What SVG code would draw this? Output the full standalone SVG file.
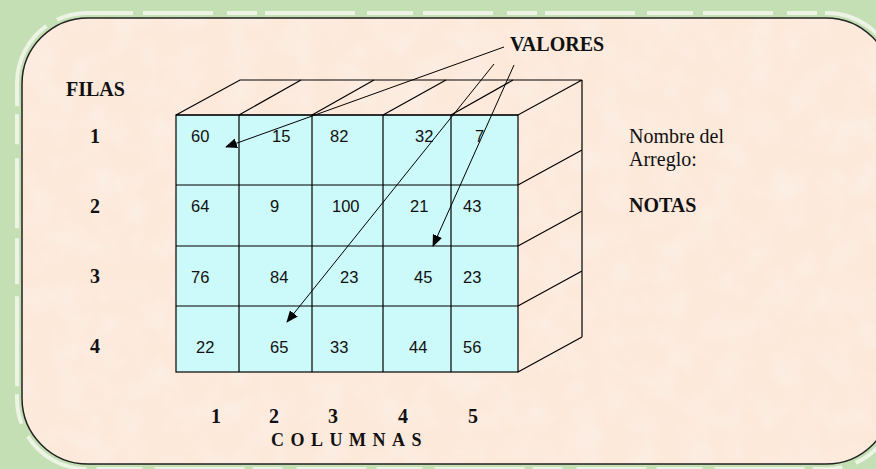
<svg xmlns="http://www.w3.org/2000/svg" width="876" height="469" viewBox="0 0 876 469">
<style>
  .ln{stroke:#000;stroke-width:1.2;fill:none}
  .num{font-family:"Liberation Sans",Arial,sans-serif;font-size:16.5px;fill:#111}
  .lbl{font-family:"Liberation Serif","DejaVu Serif",serif;font-size:20px;font-weight:bold;fill:#111}
  .txt{font-family:"Liberation Serif","DejaVu Serif",serif;font-size:20px;fill:#111}
  .arr{stroke:#000;stroke-width:1;fill:none;marker-end:url(#ah)}
</style>
<defs>
  <marker id="ah" viewBox="0 0 12 10" refX="11" refY="5" markerWidth="12" markerHeight="10" markerUnits="userSpaceOnUse" orient="auto">
    <path d="M0,0 L12,5 L0,10 z" fill="#000"/>
  </marker>
  <filter id="mottle" x="0" y="0" width="100%" height="100%">
    <feTurbulence type="fractalNoise" baseFrequency="0.035" numOctaves="3" seed="4" result="n"/>
    <feColorMatrix in="n" type="matrix" values="0 0 0 0 0.97  0 0 0 0 0.85  0 0 0 0 0.77  0 0 0 -2.4 1.45" result="c"/>
    <feComposite in="c" in2="SourceGraphic" operator="in"/>
  </filter>
</defs>
<rect x="0" y="0" width="876" height="469" fill="#c3dfb3"/>
<rect x="17" y="13" width="880" height="456" rx="70" fill="none" stroke="#f4f8ef" stroke-width="4" stroke-dasharray="46 10 70 14 30 8 90 12" opacity="0.85"/>
<g id="panel">
  <rect x="22" y="18" width="870" height="446" rx="66" fill="#fde9da"/>
  <rect x="22" y="18" width="870" height="446" rx="66" fill="#fde9da" filter="url(#mottle)"/>
  <rect x="22" y="18" width="870" height="446" rx="66" fill="none" stroke="#222" stroke-width="1.5"/>
</g>
<g id="array">
  <rect x="176" y="115" width="342" height="257" fill="#ccf9f9"/>
  <polygon class="ln" points="176,115 240,80 582,80 518,115"/>
  <path class="ln" d="M239,115 L301,80 M312,115 L374,80 M383,115 L446,80 M451,115 L513,80"/>
  <path class="ln" d="M518,185 L582,150 M518,246 L582,211 M518,306 L582,271 M518,372 L582,337 M582,80 L582,337"/>
  <rect class="ln" x="176" y="115" width="342" height="257"/>
  <path class="ln" d="M176,185 H518 M176,246 H518 M176,306 H518 M239,115 V372 M312,115 V372 M383,115 V372 M451,115 V372"/>
</g>
<g id="values">
  <text class="num" x="191" y="142">60</text>
  <text class="num" x="272" y="142">15</text>
  <text class="num" x="330" y="142">82</text>
  <text class="num" x="415" y="142">32</text>
  <text class="num" x="475" y="142">7</text>
  <text class="num" x="191" y="212">64</text>
  <text class="num" x="270" y="212">9</text>
  <text class="num" x="332" y="212">100</text>
  <text class="num" x="410" y="212">21</text>
  <text class="num" x="463" y="212">43</text>
  <text class="num" x="191" y="283">76</text>
  <text class="num" x="270" y="283">84</text>
  <text class="num" x="340" y="283">23</text>
  <text class="num" x="414" y="283">45</text>
  <text class="num" x="463" y="283">23</text>
  <text class="num" x="196" y="353">22</text>
  <text class="num" x="270" y="353">65</text>
  <text class="num" x="330" y="353">33</text>
  <text class="num" x="409" y="353">44</text>
  <text class="num" x="463" y="353">56</text>
</g>
<g id="rows">
  <text class="lbl" x="66" y="96">FILAS</text>
  <text class="lbl" x="95" y="143" text-anchor="middle">1</text>
  <text class="lbl" x="95" y="213" text-anchor="middle">2</text>
  <text class="lbl" x="95" y="283" text-anchor="middle">3</text>
  <text class="lbl" x="95" y="353" text-anchor="middle">4</text>
</g>
<g id="columns">
  <text class="lbl" x="216" y="423" text-anchor="middle">1</text>
  <text class="lbl" x="274" y="423" text-anchor="middle">2</text>
  <text class="lbl" x="333" y="423" text-anchor="middle">3</text>
  <text class="lbl" x="403" y="423" text-anchor="middle">4</text>
  <text class="lbl" x="473" y="423" text-anchor="middle">5</text>
  <text class="lbl" x="271" y="446" style="font-size:18px;letter-spacing:6.5px">COLUMNAS</text>
</g>
<g id="valores">
  <text class="lbl" x="510" y="51">VALORES</text>
</g>
<g id="name">
  <text class="txt" x="629" y="143">Nombre del</text>
  <text class="txt" x="629" y="166">Arreglo:</text>
  <text class="lbl" x="629" y="212">NOTAS</text>
</g>
<g id="connectors">
  <line class="arr" x1="504" y1="47" x2="226" y2="147"/>
  <line class="arr" x1="494" y1="64" x2="287" y2="322"/>
  <line class="arr" x1="514" y1="65" x2="433" y2="246"/>
</g>
</svg>
